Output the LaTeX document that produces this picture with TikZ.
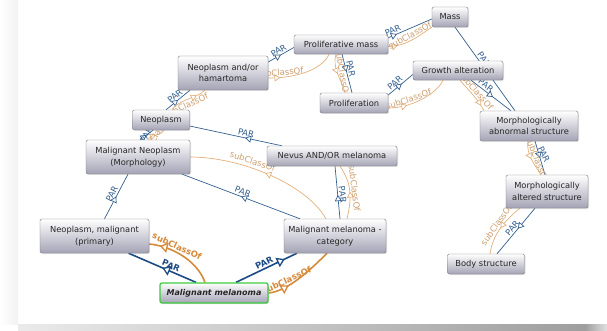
\documentclass[tikz,border=0pt]{standalone}
\usepackage{fontspec}
\setmainfont{DejaVu Sans}
\usetikzlibrary{arrows.meta}
\usetikzlibrary{decorations.markings}
\usetikzlibrary{shadows}

\definecolor{parBlue}{HTML}{34608F}
\definecolor{parDark}{HTML}{1D4B86}
\definecolor{subOrange}{HTML}{E4B07A}
\definecolor{subDark}{HTML}{D68A3A}
\definecolor{boxLine}{HTML}{75757F}
\definecolor{boxLow}{HTML}{A4A3B5}
\definecolor{selGreen}{HTML}{3CCB3C}

\pgfdeclarelayer{card}
\pgfdeclarelayer{edges}
\pgfsetlayers{card,edges,main}

\begin{document}
\begin{tikzpicture}
[x=1pt,y=-1pt,%
  boxDecorate/.style={rectangle,rounded corners=2pt,draw=boxLine,top color=white,bottom color=boxLow,%
    align=center,text=black!85,inner sep=1pt,font=\fontsize{8.3}{11.5}\selectfont,%
    drop shadow={shadow xshift=1pt,shadow yshift=-1pt,opacity=.25}},%
  selDecorate/.style={boxDecorate,draw=selGreen,line width=1.3pt,font=\fontsize{8}{10}\selectfont\bfseries\itshape},%
  parDecorate/.style={draw=parBlue,line width=0.7pt,postaction={decorate},%
    decoration={markings,mark=at position #1 with {\arrow[parBlue,line width=0.7pt]{Triangle[fill=white,length=6pt,width=7pt]}}}},%
  parDecorate/.default=0.5,%
  subDecorate/.style={draw=subOrange,line width=0.7pt,postaction={decorate},%
    decoration={markings,mark=at position #1 with {\arrow[subOrange,line width=0.7pt]{Triangle[fill=white,length=6pt,width=7pt]}}}},%
  subDecorate/.default=0.5,%
  parThick/.style={draw=parDark,line width=1.6pt,postaction={decorate},%
    decoration={markings,mark=at position #1 with {\arrow[parDark,line width=1.3pt]{Triangle[fill=white,length=8pt,width=10pt]}}}},%
  parThick/.default=0.5,%
  subThick/.style={draw=subDark,line width=1.6pt,postaction={decorate},%
    decoration={markings,mark=at position #1 with {\arrow[subDark,line width=1.3pt]{Triangle[fill=white,length=8pt,width=10pt]}}}},%
  subThick/.default=0.5,%
  parLabel/.style={text=parBlue,font=\fontsize{8.5}{9}\selectfont,inner sep=1.5pt},%
  subLabel/.style={text=subOrange!90!black,font=\fontsize{8.5}{9}\selectfont,inner sep=1.5pt},%
  parBold/.style={parLabel,text=parDark,font=\fontsize{8.5}{9}\selectfont\bfseries},%
  subBold/.style={subLabel,text=subDark,font=\fontsize{8.5}{9}\selectfont\bfseries}]
\useasboundingbox (0,0) rectangle (607,331);
%% card and its shadow
\begin{pgfonlayer}{card}
\fill[white] (0,0) rectangle (607,331);
\shade[left color=white,right color=black!5] (0,0) rectangle (18,324);
\shade[left color=black!8,right color=black!38] (18,324) rectangle (585,331);
\shade[left color=black!38,right color=black!12] (585,324) rectangle (607,331);
\end{pgfonlayer}
%% concept boxes
\foreach \name/\x/\y/\w/\h/\txt in {
  mass/450/17/36/20/{Mass},
  pm/341/44.5/94/19/{Proliferative mass},
  nah/223/73/90/34/{Neoplasm and/or\\hamartoma},
  ga/458/70.5/90/19/{Growth alteration},
  prol/354/103/68/20/{Proliferation},
  neo/161/120/57/20/{Neoplasm},
  mas/529/126/98/30/{Morphologically\\abnormal structure},
  mnm/138/157/104/34/{Malignant Neoplasm\\(Morphology)},
  nevus/332/156/130/20/{Nevus AND/OR melanoma},
  malt/547/191.5/82/33/{Morphologically\\altered structure},
  nmp/94.5/236/109/34/{Neoplasm, malignant\\(primary)},
  mmcat/335/236/102/34/{Malignant melanoma -\\category},
  bs/486/264/77/20/{Body structure}}
{
  \node[boxDecorate,minimum width=\w pt,minimum height=\h pt] (\name) at (\x,\y) {\txt};
}
\node[selDecorate,minimum width=108pt,minimum height=20pt] (mm) at (214,293) {Malignant melanoma};
%% relations
\begin{pgfonlayer}{edges}
% selected concept
\draw[parThick] ([xshift=-18pt]mm.north) -- ([xshift=34pt]nmp.south) node[parBold,sloped,above,pos=.4]{PAR};
\draw[subThick=.85] ([xshift=-9pt]mm.north) .. controls +(-8,-22) and +(22,2) .. ([yshift=-8pt]nmp.east) node[subBold,pos=.62,rotate=-25,anchor=south]{subClassOf};
\draw[parThick=.8] ([xshift=22pt]mm.north) -- ([xshift=-38pt]mmcat.south) node[parBold,sloped,above,pos=.5]{PAR};
\draw[subThick=.3] (mm.east) .. controls +(20,-2) and +(-15,15) .. ([xshift=-8pt]mmcat.south) node[subBold,pos=.33,rotate=25,anchor=south]{subClassOf};
% lower part
\draw[parDecorate] ([xshift=10pt]nmp.north) -- ([xshift=-10pt]mnm.south) node[parLabel,sloped,above,pos=.5]{PAR};
\draw[parDecorate] ([xshift=-35pt]mmcat.north) -- ([xshift=-8pt]mnm.south east) node[parLabel,sloped,above,pos=.5]{PAR};
\draw[subDecorate] ([xshift=-9pt]mmcat.north) .. controls +(-20,-35) and +(50,0) .. (mnm.east) node[subLabel,sloped,above,pos=.62,inner sep=3pt]{subClassOf};
\draw[parDecorate=.45] ([xshift=5pt]mmcat.north) -- ([xshift=3pt]nevus.south) node[parLabel,pos=.45,rotate=-83,anchor=south]{PAR};
\draw[subDecorate] ([xshift=12pt]mmcat.north) .. controls +(6,-25) and +(10,15) .. ([xshift=8pt]nevus.south) node[subLabel,pos=.5,rotate=-83,anchor=south]{subClassOf};
\draw[parDecorate=.4] ([xshift=-50pt]nevus.north) -- ([yshift=-6pt]neo.east) node[parLabel,sloped,above,pos=.4]{PAR};
\draw[parDecorate] ([xshift=2pt]mnm.north) -- ([xshift=-8pt]neo.south) node[parLabel,pos=.5,rotate=60]{PAR};
\draw[subDecorate] ([xshift=10pt]mnm.north) .. controls +(2,-5) and +(-2,5) .. ([xshift=3pt]neo.south) node[subLabel,pos=.5,rotate=60]{subClassOf};
% upper left part
\draw[parDecorate] ([xshift=5pt]neo.north) -- ([xshift=-33pt]nah.south) node[parLabel,sloped,above,pos=.5]{PAR};
\draw[subDecorate=.75] ([xshift=11pt]neo.north) .. controls +(6,-10) and +(-8,8) .. ([xshift=-18pt]nah.south) node[subLabel,sloped,below,pos=.4]{subClassOf};
\draw[parDecorate] ([yshift=11pt]nah.east) -- ([yshift=-3pt]pm.west) node[parLabel,sloped,above,pos=.5]{PAR};
\draw[subDecorate=.18] ([yshift=-5pt]nah.east) .. controls +(35,0) and +(-5,12) .. ([xshift=-12pt]pm.south) node[subLabel,sloped,above,pos=.12]{subClassOf};
\draw[parDecorate=.2] ([yshift=-3pt]pm.north east) -- ([yshift=-2pt]mass.west) node[parLabel,sloped,above,pos=.15]{PAR};
\draw[subDecorate=.2] ([yshift=-2pt]pm.east) .. controls +(18,0) and +(-12,8) .. (mass.south west) node[subLabel,sloped,above,pos=.5]{subClassOf};
\draw[parDecorate=.45] ([xshift=1pt]pm.south) -- ([xshift=-2pt]prol.north) node[parLabel,pos=.4,rotate=-78,anchor=south]{PAR};
\draw[subDecorate] ([xshift=-5pt]pm.south) .. controls +(-4,15) and +(-4,-15) .. ([xshift=-9pt]prol.north) node[subLabel,pos=.5,rotate=-80,anchor=south]{subClassOf};
\draw[parDecorate=.55] ([yshift=8pt]prol.east) -- ([yshift=-4pt]ga.west) node[parLabel,sloped,above,pos=.4]{PAR};
\draw[subDecorate=.3] ([yshift=-5pt]prol.east) .. controls +(25,0) and +(-5,12) .. ([xshift=-15pt]ga.south) node[subLabel,sloped,above,pos=.3]{subClassOf};
% right part
\draw[parDecorate] ([xshift=5pt]mass.south) -- ([xshift=-14pt]mas.north) node[parLabel,sloped,above,pos=.42]{PAR};
\draw[parDecorate=.55] ([xshift=13pt]ga.south) -- ([xshift=-18pt]mas.north) node[parLabel,sloped,above,pos=.3]{PAR};
\draw[subDecorate=.85] ([xshift=2pt]ga.south) .. controls +(10,12) and +(-6,-12) .. ([xshift=-45pt]mas.north) node[subLabel,sloped,above,pos=.45]{subClassOf};
\draw[parDecorate] ([xshift=6pt]mas.south) -- ([xshift=-2pt]malt.north) node[parLabel,pos=.45,rotate=-65,anchor=south]{PAR};
\draw[subDecorate] ([xshift=-1pt]mas.south) .. controls +(-2,14) and +(-6,-10) .. ([xshift=-6pt]malt.north) node[subLabel,pos=.55,rotate=-68,anchor=south]{subClassOf};
\draw[parDecorate=.45] ([xshift=-12pt]malt.south) -- ([xshift=11pt]bs.north) node[parLabel,sloped,above,pos=.5]{PAR};
\draw[subDecorate] ([xshift=-27pt]malt.south) .. controls +(-15,12) and +(3,-20) .. ([xshift=4pt]bs.north) node[subLabel,sloped,above,pos=.5]{subClassOf};
\end{pgfonlayer}
\end{tikzpicture}
\end{document}
